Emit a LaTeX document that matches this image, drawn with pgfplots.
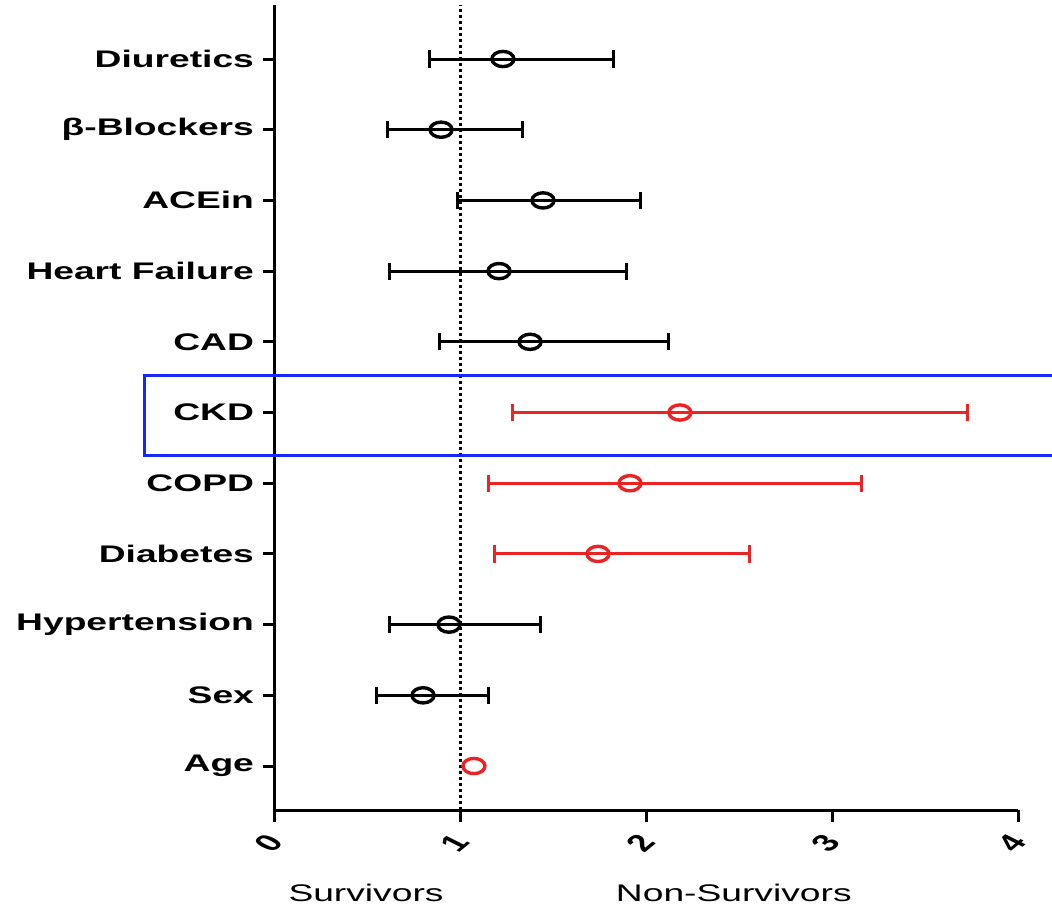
\documentclass[border=0pt]{standalone}
\usepackage{fontspec}
\usepackage{graphicx}
\setmainfont{Liberation Sans}[FakeStretch=1.55]
\newfontfamily\plainsans{Liberation Sans}
\usepackage{pgfplots}
\pgfplotsset{compat=1.18}
\definecolor{myred}{RGB}{235,35,35}
\definecolor{myblue}{RGB}{20,40,250}
\newcommand\tl[1]{\scalebox{1.55}[1]{\rotatebox{52}{\plainsans\bfseries\fontsize{12}{14}\selectfont #1}}}
\begin{document}
\begin{tikzpicture}
\begin{axis}[
  scale only axis,
  width=371.5pt, height=402.5pt,
  xmin=0, xmax=4, ymin=-0.622, ymax=10.764,
  axis x line*=bottom, axis y line*=left,
  axis line style={line width=1.5pt, -},
  xtick={0,1,2,3,4},
  xticklabels={\tl{0},\tl{1},\tl{2},\tl{3},\tl{4}},
  ytick={0,1,2,3,4,5,6,7,8,9,10},
  yticklabels={Age,Sex,Hypertension,Diabetes,COPD,CKD,CAD,Heart Failure,ACEin,β-Blockers,Diuretics},
  tick style={line width=1.5pt, black},
  major tick length=6pt,
  tick align=outside,
  yticklabel style={font=\bfseries\fontsize{12}{14}\selectfont, xshift=-1pt},
  xticklabel style={anchor=center, xshift=-3pt, yshift=-10.5pt},
  clip=false,
]
\addplot[black, line width=1.4pt, dash pattern=on 1.3pt off 1.7pt] coordinates {(1,-0.622) (1,10.764)};
\addplot[black, only marks, mark=o, mark size=3.8pt,
  mark options={line width=1.7pt, fill=white, xscale=1.45},
  error bars/.cd, x dir=both, x explicit,
  error bar style={line width=1.5pt, black},
  error mark=|,
  error mark options={line width=1.5pt, mark size=4.3pt, black}]
coordinates {
 (1.227,10) += (0.593,0) -= (0.393,0)
 (0.894,9) += (0.436,0) -= (0.291,0)
 (1.443,8) += (0.527,0) -= (0.463,0)
 (1.206,7) += (0.684,0) -= (0.587,0)
 (1.373,6) += (0.743,0) -= (0.485,0)
 (0.937,2) += (0.490,0) -= (0.323,0)
 (0.797,1) += (0.350,0) -= (0.248,0)
};
\addplot[myred, only marks, mark=o, mark size=3.8pt,
  mark options={line width=1.7pt, fill=white, xscale=1.45},
  error bars/.cd, x dir=both, x explicit,
  error bar style={line width=1.5pt, myred},
  error mark=|,
  error mark options={line width=1.5pt, mark size=4.3pt, myred}]
coordinates {
 (2.180,5) += (1.550,0) -= (0.904,0)
 (1.911,4) += (1.249,0) -= (0.759,0)
 (1.739,3) += (0.818,0) -= (0.560,0)
};
\addplot[myred, only marks, mark=o, mark size=3.8pt,
  mark options={line width=1.7pt, fill=white, xscale=1.45}]
coordinates {(1.071,0)};
\draw[myblue, line width=1.5pt] (axis cs:4.25,5.523) -- (axis cs:-0.70,5.523) -- (axis cs:-0.70,4.39) -- (axis cs:4.25,4.39);
\node[font=\fontsize{12}{14}\selectfont] at (axis cs:0.49,-0.622) [yshift=-41.5pt] {Survivors};
\node[font=\fontsize{12}{14}\selectfont] at (axis cs:2.47,-0.622) [yshift=-41.5pt] {Non-Survivors};
\end{axis}
\pgfresetboundingbox
\path[use as bounding box] (-137.5pt,-49.5pt) rectangle (388.5pt,405pt);
\end{tikzpicture}
\end{document}
